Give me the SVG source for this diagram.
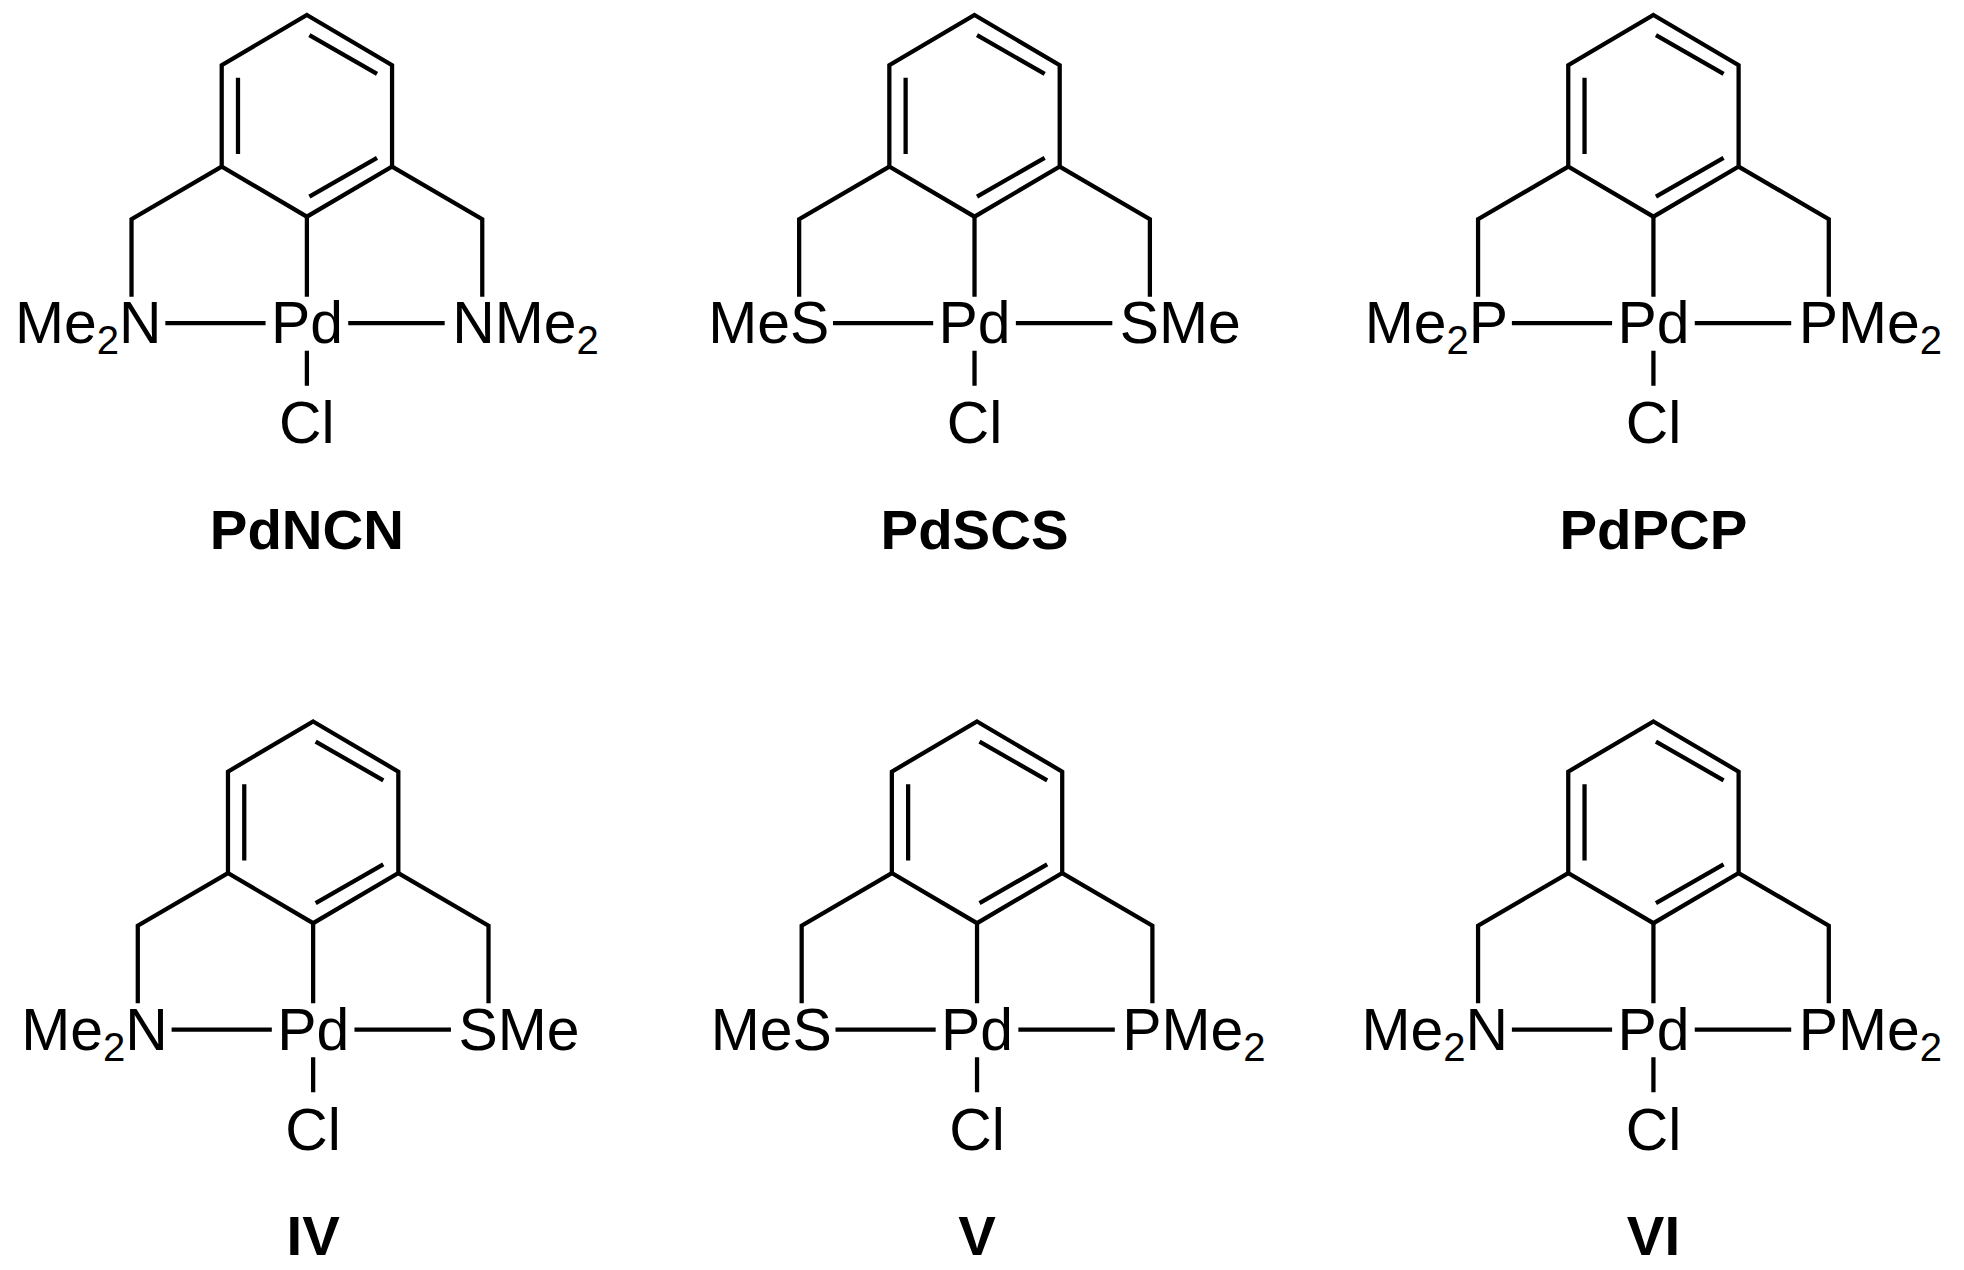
<svg xmlns="http://www.w3.org/2000/svg" xmlns:xlink="http://www.w3.org/1999/xlink" width="1964" height="1270" viewBox="0 0 1964 1270">
<style>
.b{stroke:#000;stroke-width:3.4;fill:none;stroke-linecap:butt;stroke-linejoin:miter}
.t{font-family:"Liberation Sans",Arial,sans-serif;font-size:47px;fill:#000}
.l{font-family:"Liberation Sans",Arial,sans-serif;font-size:45px;font-weight:bold;fill:#000;text-anchor:middle}
.s{font-size:32px}
</style>
<defs>
<g id="sk">
<path class="b" d="M0,12 L68,52 L68,133 L0,173 L-68,133 L-68,52 Z"/>
<path class="b" d="M-55,62 V123 M2,28 L56,59 M2,157 L56,126"/>
<path class="b" d="M-68,133 L-140,175 V237 M68,133 L140,175 V237 M0,173 V237 M-113,258 H-33 M33,258 H110 M0,280 V308"/>
</g>
</defs>
<rect width="1964" height="1270" fill="#fff"/>
<g transform="scale(1.2526)">
<g id="connectors">
<use xlink:href="#sk" x="245" y="0"/>
<use xlink:href="#sk" x="778" y="0"/>
<use xlink:href="#sk" x="1320" y="0"/>
<use xlink:href="#sk" x="250" y="564"/>
<use xlink:href="#sk" x="780" y="564"/>
<use xlink:href="#sk" x="1320" y="564"/>
</g>
<g id="PdNCN" transform="translate(245,0)">
<text class="t" x="0" y="274" text-anchor="middle">Pd</text>
<text class="t" x="-116" y="274" text-anchor="end">Me<tspan class="s" dy="9">2</tspan><tspan dy="-9">N</tspan></text>
<text class="t" x="116" y="274">NMe<tspan class="s" dy="9">2</tspan></text>
<text class="t" x="0" y="354" text-anchor="middle">Cl</text>
<text class="l" x="0" y="438">PdNCN</text>
</g>
<g id="PdSCS" transform="translate(778,0)">
<text class="t" x="0" y="274" text-anchor="middle">Pd</text>
<text class="t" x="-116" y="274" text-anchor="end">MeS</text>
<text class="t" x="116" y="274">SMe</text>
<text class="t" x="0" y="354" text-anchor="middle">Cl</text>
<text class="l" x="0" y="438">PdSCS</text>
</g>
<g id="PdPCP" transform="translate(1320,0)">
<text class="t" x="0" y="274" text-anchor="middle">Pd</text>
<text class="t" x="-116" y="274" text-anchor="end">Me<tspan class="s" dy="9">2</tspan><tspan dy="-9">P</tspan></text>
<text class="t" x="116" y="274">PMe<tspan class="s" dy="9">2</tspan></text>
<text class="t" x="0" y="354" text-anchor="middle">Cl</text>
<text class="l" x="0" y="438">PdPCP</text>
</g>
<g id="IV" transform="translate(250,564)">
<text class="t" x="0" y="274" text-anchor="middle">Pd</text>
<text class="t" x="-116" y="274" text-anchor="end">Me<tspan class="s" dy="9">2</tspan><tspan dy="-9">N</tspan></text>
<text class="t" x="116" y="274">SMe</text>
<text class="t" x="0" y="354" text-anchor="middle">Cl</text>
<text class="l" x="0" y="438">IV</text>
</g>
<g id="V" transform="translate(780,564)">
<text class="t" x="0" y="274" text-anchor="middle">Pd</text>
<text class="t" x="-116" y="274" text-anchor="end">MeS</text>
<text class="t" x="116" y="274">PMe<tspan class="s" dy="9">2</tspan></text>
<text class="t" x="0" y="354" text-anchor="middle">Cl</text>
<text class="l" x="0" y="438">V</text>
</g>
<g id="VI" transform="translate(1320,564)">
<text class="t" x="0" y="274" text-anchor="middle">Pd</text>
<text class="t" x="-116" y="274" text-anchor="end">Me<tspan class="s" dy="9">2</tspan><tspan dy="-9">N</tspan></text>
<text class="t" x="116" y="274">PMe<tspan class="s" dy="9">2</tspan></text>
<text class="t" x="0" y="354" text-anchor="middle">Cl</text>
<text class="l" x="0" y="438">VI</text>
</g>
</g>
</svg>
